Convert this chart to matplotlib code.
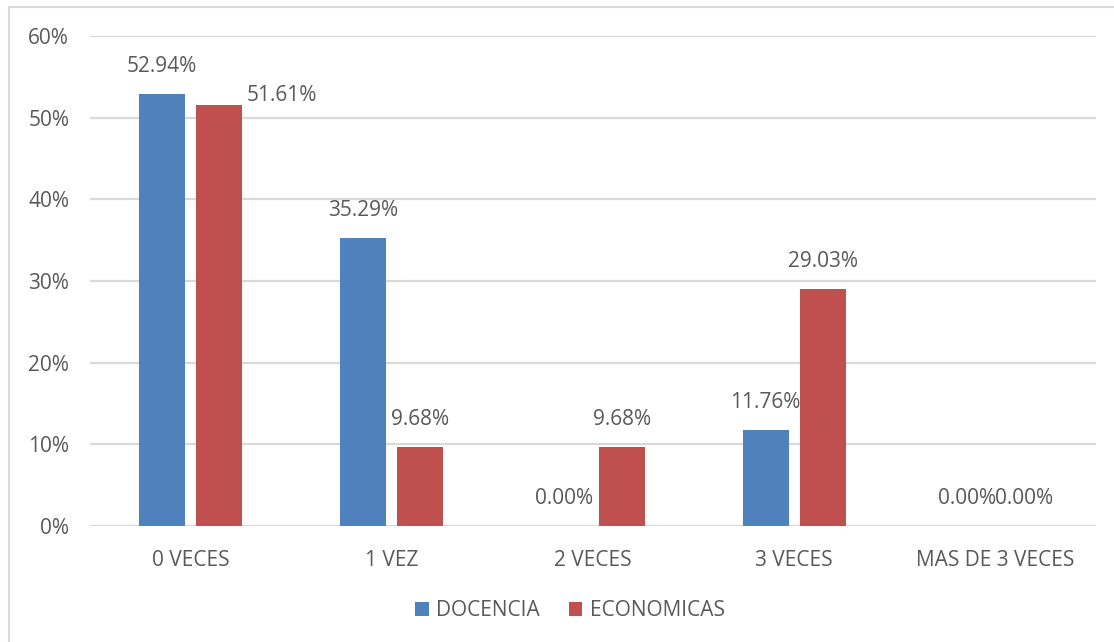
import matplotlib
matplotlib.use("Agg")
import matplotlib.pyplot as plt
from matplotlib.lines import Line2D
from matplotlib.patches import Patch
import numpy as np

categories = ["0 VECES", "1 VEZ", "2 VECES", "3 VECES", "MAS DE 3 VECES"]
series_names = ["DOCENCIA", "ECONOMICAS"]
docencia = [52.94, 35.29, 0.00, 11.76, 0.00]
economicas = [51.61, 9.68, 9.68, 29.03, 0.00]
y_ticks = [0, 10, 20, 30, 40, 50, 60]

BLUE = "#4F81BD"
RED = "#C0504D"
TEXT = "#595959"
GRID = "#D9D9D9"
FONT = "Open Sans"
FS = 15

W, H, DPI = 1114, 642, 100
fig = plt.figure(figsize=(W / DPI, H / DPI), dpi=DPI)
fig.patch.set_facecolor("white")

ax = fig.add_axes([90 / W, 1 - 526 / H, (1096 - 90) / W, (526 - 36) / H])
ax.set_xlim(-0.5, len(categories) - 0.5)
ax.set_ylim(0, 60)

x = np.arange(len(categories))
bw = 0.228
off = 0.142
bars_d = ax.bar(x - off, docencia, bw, color=BLUE, zorder=3)
bars_e = ax.bar(x + off, economicas, bw, color=RED, zorder=3)

# grid and axes styling
ax.set_yticks(y_ticks)
ax.set_yticklabels([f"{v}%" for v in y_ticks])
ax.yaxis.grid(True, color=GRID, linewidth=1.6, zorder=0)
ax.set_axisbelow(True)
for s in ax.spines.values():
    s.set_visible(False)
ax.tick_params(axis="both", length=0, colors=TEXT, labelsize=FS)
ax.tick_params(axis="y", pad=15)
ax.tick_params(axis="x", pad=17)
ax.set_xticks(x)
ax.set_xticklabels(categories)
for lab in ax.get_xticklabels() + ax.get_yticklabels():
    lab.set_fontfamily(FONT)

# value labels
px = 72 / DPI  # points per pixel
def label(bar, val, dx=0, dy=27, ha="center"):
    xc = bar.get_x() + bar.get_width() / 2 if ha == "center" else bar.get_x() + bar.get_width()
    ax.annotate(f"{val:.2f}%", xy=(xc, val), xytext=(dx * px, dy * px),
                textcoords="offset points", ha=ha, va="center",
                fontsize=FS, color=TEXT, fontfamily=FONT, zorder=4)

for i, (b, v) in enumerate(zip(bars_d, docencia)):
    label(b, v)
for i, (b, v) in enumerate(zip(bars_e, economicas)):
    if i == 0:
        label(b, v, dx=5, dy=9, ha="left")
    else:
        label(b, v)

# legend
handles = [Patch(facecolor=BLUE, edgecolor="none"), Patch(facecolor=RED, edgecolor="none")]
leg = fig.legend(handles, series_names, loc="center", bbox_to_anchor=(570 / W, 1 - 611 / H),
                 ncol=2, frameon=False, handlelength=0.65, handleheight=0.65,
                 handletextpad=0.35, columnspacing=1.4,
                 prop={"family": FONT, "size": FS})
for t in leg.get_texts():
    t.set_color(TEXT)

# chart border
fig.add_artist(Line2D([8.5 / W, 1.0], [1 - 6.5 / H, 1 - 6.5 / H], color=GRID, lw=1.5,
                      transform=fig.transFigure))
fig.add_artist(Line2D([8.5 / W, 8.5 / W], [0, 1 - 6.5 / H], color=GRID, lw=1.5,
                      transform=fig.transFigure))

fig.savefig("out.png", dpi=DPI, facecolor="white")
